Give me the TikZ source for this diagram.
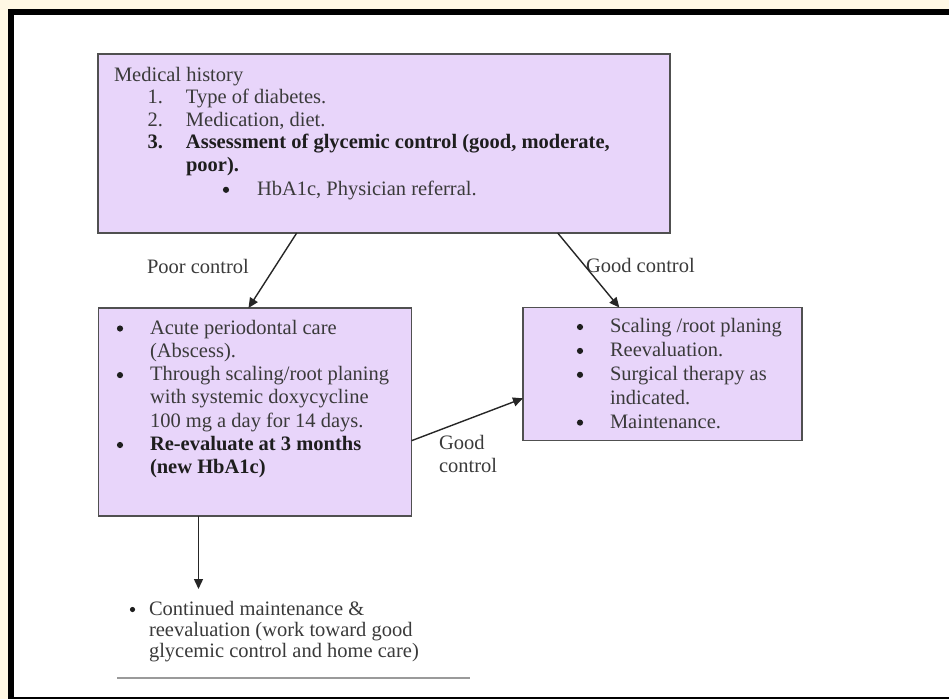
\documentclass[tikz,border=0pt]{standalone}
\usepackage{fontspec}
\setmainfont{Liberation Serif}
\usetikzlibrary{arrows.meta}
\definecolor{cream}{HTML}{FFF8E4}
\definecolor{boxfill}{HTML}{E8D5FA}
\definecolor{boxline}{HTML}{505050}
\definecolor{txt}{HTML}{3A3A3A}
\definecolor{bld}{HTML}{1E1E1E}
\definecolor{arr}{HTML}{262626}
\definecolor{rulegray}{HTML}{9A9A9A}
\newcommand{\numit}[2]{\makebox[49pt][r]{#1}\hspace*{23pt}#2}
\newcommand{\ind}{\hspace*{33.6pt}}
\begin{document}
\begin{tikzpicture}[x=1pt,y=-1pt,
  box/.style={draw=boxline,line width=1.8pt,fill=boxfill,rectangle,inner sep=0pt,outer sep=0pt,anchor=north west},
  body/.style={anchor=north west,align=left,inner sep=0pt,outer sep=0pt,text=txt},
  lbl/.style={anchor=base west,inner sep=0pt,outer sep=0pt,text=txt,font=\fontsize{20.5}{22.5}\selectfont},
  conn/.style={draw=arr,line width=1.4pt,-{Triangle[length=10pt,width=9pt]}},
  dot/.style={fill=bld}]
\useasboundingbox (0,0) rectangle (949,699);
\fill[cream] (0,0) rectangle (949,699);
\fill[black] (8,9) rectangle (949,699);
\fill[white] (14,15) rectangle (949,696.5);

% boxes
\node[box,minimum width=572pt,minimum height=179pt] (top) at (98,54) {};
\node[box,minimum width=313pt,minimum height=208pt] (poor) at (98.5,308) {};
\node[box,minimum width=279pt,minimum height=133pt] (good) at (523,307.5) {};

% box texts
\node[body,font=\fontsize{20.5}{22.5}\selectfont] (toptext) at (114,65.25) {\strut Medical history\\
\numit{1.}{Type of diabetes.}\\
\numit{2.}{Medication, diet.}\\
{\color{bld}\bfseries\numit{3.}{Assessment of glycemic control (good, moderate,}}\\
\hspace*{72pt}{\color{bld}\bfseries poor).}\\[1.8pt]
\hspace*{143pt}HbA1c, Physician referral.};

\node[body,font=\fontsize{20.5}{23.3}\selectfont] (poortext) at (116.4,317.7) {\strut\ind Acute periodontal care\\
\ind(Abscess).\\
\ind Through scaling/root planing\\
\ind with systemic doxycycline\\
\ind 100 mg a day for 14 days.\\
\ind{\color{bld}\bfseries Re-evaluate at 3 months}\\
\ind{\color{bld}\bfseries (new HbA1c)}};

\node[body,font=\fontsize{20.5}{23.9}\selectfont] (goodtext) at (576.4,315.8) {\strut\ind Scaling /root planing\\
\ind Reevaluation.\\
\ind Surgical therapy as\\
\ind indicated.\\
\ind Maintenance.};

\node[body,font=\fontsize{20.5}{21}\selectfont] (cont) at (149,600.3) {\strut Continued maintenance \&\\
reevaluation (work toward good\\
glycemic control and home care)};

% list bullets
\fill[dot] (226,189.8) circle (3.1);
\foreach \yy in {328.5,375.1,445} \fill[dot] (120,\yy) circle (3.1);
\foreach \yy in {327,350.9,374.8,422.6} \fill[dot] (580,\yy) circle (3.1);
\fill[dot] (132.5,609.5) circle (2.6);

% labels
\node[lbl] (lp) at (147,273) {Poor control};
\node[lbl] (lg) at (586,272) {Good control};
\node[body,font=\fontsize{20.5}{22.7}\selectfont] (lm) at (439,434.1) {\strut Good\\control};

% connectors
\coordinate (c4) at (198.5,589);
\draw[conn] ([xshift=198.7pt]top.south west) -- ([xshift=150pt]poor.north west);
\draw[conn] ([xshift=459.7pt]top.south west) -- ([xshift=96.3pt]good.north west);
\draw[conn] ([yshift=-132.7pt]poor.north east) -- ([yshift=-90.8pt]good.north west);
\draw[conn] ([xshift=100pt]poor.south west) -- (c4);

% rule under the last text
\draw[rulegray,line width=2pt] (117,678) -- (470,678);
\end{tikzpicture}
\end{document}
